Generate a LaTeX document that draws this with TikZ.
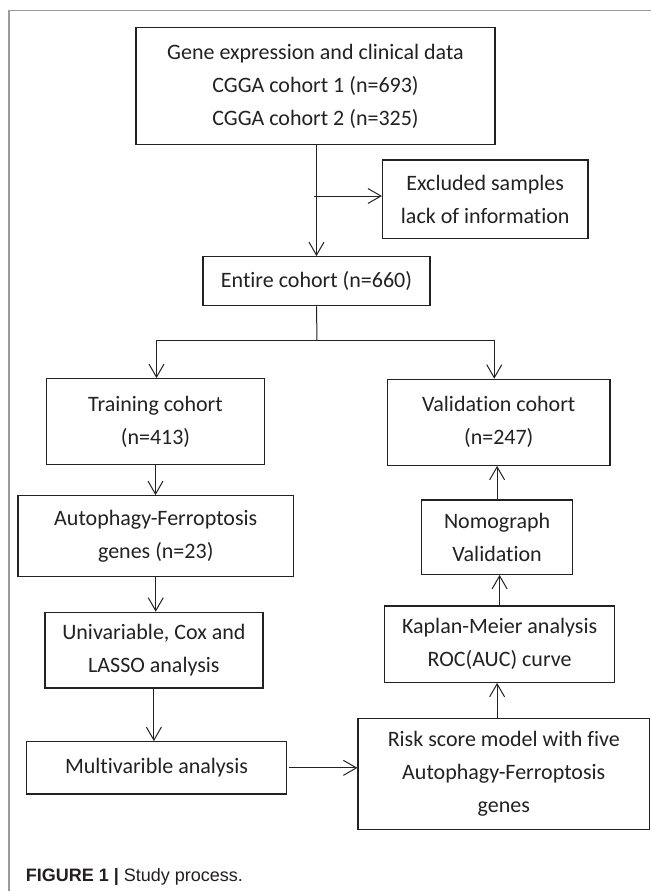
\documentclass[tikz,border=0pt]{standalone}
\usepackage{fontspec}
\setmainfont[Ligatures=NoCommon]{Carlito}
\newfontfamily\capfont{Liberation Sans}
\usetikzlibrary{arrows.meta}
\definecolor{ink}{HTML}{222222}
\definecolor{frame}{HTML}{9A9A9A}
\definecolor{captink}{HTML}{231F20}
\begin{document}
\begin{tikzpicture}[x=1pt,y=-1pt,
  box/.style={draw=ink,line width=1.2pt,inner sep=0pt,align=center,
    font=\fontsize{22}{33}\selectfont,text=ink},
  arr/.style={draw=ink,line width=1pt,-{Straight Barb[length=13pt,width=15pt]}},
  link/.style={draw=ink,line width=1pt}]
\useasboundingbox (0,0) rectangle (651,891);
\fill[white] (0,0) rectangle (651,891);
\draw[frame,line width=1.2pt] (9,891) -- (9,10.7) -- (651,10.7);

\node[box,minimum width=359pt,minimum height=116.6pt] (top) at (315.5,86)
  {Gene expression and clinical data\\CGGA cohort 1 (n=693)\\CGGA cohort 2 (n=325)};
\node[box,minimum width=205.5pt,minimum height=78.7pt] (excl) at (485.25,199.35)
  {Excluded samples\\lack of information};
\node[box,minimum width=227pt,minimum height=49pt] (entire) at (316.5,281.2)
  {Entire cohort (n=660)};
\node[box,minimum width=218pt,minimum height=86pt] (train) at (155.5,421.7)
  {Training cohort\\(n=413)};
\node[box,minimum width=222.5pt,minimum height=86pt] (valid) at (498.75,422.3)
  {Validation cohort\\(n=247)};
\node[box,minimum width=275.7pt,minimum height=81pt] (auto) at (155.75,536.2)
  {Autophagy-Ferroptosis\\genes (n=23)};
\node[box,minimum width=151.2pt,minimum height=74.3pt] (nomo) at (497.1,537.15)
  {Nomograph\\Validation};
\node[box,minimum width=218pt,minimum height=75.7pt] (univ) at (153.9,650.15)
  {Univariable, Cox and\\LASSO analysis};
\node[box,minimum width=259.9pt,minimum height=52.3pt] (multi) at (156.55,767.85)
  {Multivarible analysis};
\node[box,minimum width=230pt,minimum height=76.3pt] (km) at (499.6,644.15)
  {Kaplan-Meier analysis\\ROC(AUC) curve};
\node[box,minimum width=291.5pt,minimum height=111pt] (risk) at (503.75,773.8)
  {Risk score model with five\\Autophagy-Ferroptosis\\genes};

\draw[arr] (top.south -| entire.north) -- (entire.north);
\coordinate (j1) at (313.5,196);
\draw[arr] (j1) -- (j1 -| excl.west);
\coordinate (sp) at (317,340.5);
\draw[link] (entire.south) -- (sp);
\draw[arr] (sp) -| ([xshift=1pt]train.north);
\draw[arr] (sp) -| ([xshift=-4.5pt]valid.north);
\draw[arr] (train.south) -- (auto.north -| train.south);
\draw[arr] (auto.south) -- (auto.south |- univ.north);
\draw[arr] (univ.south) -- (univ.south |- multi.north);
\draw[arr] ([xshift=2pt]multi.east) -- (multi.east -| risk.west);
\draw[arr] (risk.north -| nomo.center) -- (km.south -| nomo.center);
\draw[arr] (km.north) -- (km.north |- nomo.south);
\draw[arr] (nomo.north) -- (nomo.north |- valid.south);

\node[anchor=base west,inner sep=0pt,text=captink,font=\capfont\fontsize{18}{20}\selectfont] (cap) at (25.7,881.7)
  {\bfseries FIGURE 1 |\mdseries{} Study process.};
\end{tikzpicture}
\end{document}
